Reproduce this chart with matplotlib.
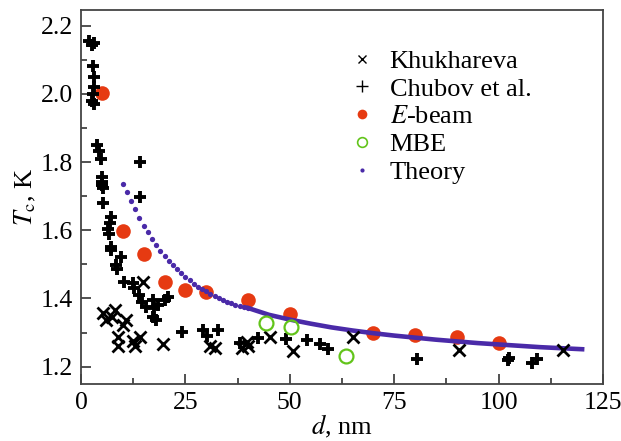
import matplotlib
matplotlib.use("Agg")
import matplotlib.pyplot as plt
from matplotlib.lines import Line2D
from matplotlib.ticker import MultipleLocator

plt.rcParams["font.family"] = ["Liberation Serif", "DejaVu Serif"]
plt.rcParams["mathtext.fontset"] = "stix"

# Khukhareva (x markers)
khuk_d = [5.3, 6.1, 7.5, 8.1, 10.9, 10.0, 8.9, 8.9, 12.4, 12.9, 14.1, 14.9, 19.7,
          30.9, 32.1, 38.5, 39.7, 40.1, 45.3, 50.8, 65.2, 90.6, 115.5]
khuk_tc = [1.356, 1.337, 1.345, 1.366, 1.337, 1.322, 1.288, 1.259, 1.275, 1.259, 1.288, 1.449, 1.266,
           1.259, 1.254, 1.254, 1.273, 1.259, 1.288, 1.246, 1.288, 1.249, 1.249]

# Chubov et al. (+ markers)
chub_d = [2.0, 2.6, 3.0, 2.8, 3.0, 3.0, 2.8, 2.7, 3.1,
          3.8, 4.4, 4.9, 5.0, 5.0, 5.1, 5.2, 5.2, 14.2, 14.2,
          7.2, 7.0, 6.5, 6.8, 7.2, 7.2, 9.6, 8.4, 8.6,
          10.4, 12.4, 12.8, 14.0, 14.5, 15.6, 17.2, 17.4, 17.2, 18.0, 18.5,
          20.1, 20.9, 24.2, 29.3, 30.1, 32.9, 38.1, 42.3, 49.2, 54.2, 57.2, 59.2,
          80.4, 102.3, 102.6, 107.9, 109.3]
chub_tc = [2.155, 2.145, 2.150, 2.083, 2.050, 2.020, 2.000, 1.980, 1.972,
           1.849, 1.832, 1.810, 1.755, 1.743, 1.733, 1.724, 1.680, 1.799, 1.698,
           1.639, 1.622, 1.605, 1.590, 1.551, 1.542, 1.522, 1.498, 1.485,
           1.449, 1.446, 1.430, 1.410, 1.390, 1.376, 1.395, 1.371, 1.346, 1.337, 1.381,
           1.395, 1.405, 1.302, 1.307, 1.290, 1.307, 1.268, 1.285, 1.282, 1.277, 1.266, 1.251,
           1.222, 1.220, 1.226, 1.212, 1.222]

# E-beam
ebeam_d = [5, 10, 15, 20, 25, 30, 40, 50, 70, 80, 90, 100]
ebeam_tc = [2.002, 1.598, 1.529, 1.447, 1.425, 1.418, 1.394, 1.353, 1.298, 1.293, 1.287, 1.268]

# MBE
mbe_d = [44.2, 50.2, 63.5]
mbe_tc = [1.329, 1.315, 1.232]

# Theory, dotted part (read every 1 nm)
theo_d = list(range(10, 41))
theo_tc = [1.737, 1.712, 1.685, 1.661, 1.636, 1.613, 1.594, 1.574, 1.556, 1.540,
           1.525, 1.510, 1.498, 1.485, 1.474, 1.464, 1.453, 1.443, 1.434, 1.427,
           1.421, 1.414, 1.408, 1.402, 1.396, 1.391, 1.386, 1.382, 1.378, 1.375, 1.372]
# Theory, dense part (read every 5 nm)
theo2_d = [40, 45, 50, 55, 60, 65, 70, 75, 80, 85, 90, 95, 100, 105, 110, 115, 120]
theo2_tc = [1.372, 1.352, 1.338, 1.326, 1.315, 1.306, 1.298, 1.291, 1.285, 1.279,
            1.274, 1.269, 1.265, 1.261, 1.257, 1.254, 1.251]

red = "#e63a12"
green = "#62c41a"
blue = "#4a2aa8"
fs = 19

fig = plt.figure(figsize=(6.21, 4.41), dpi=100)
ax = fig.add_axes([0.1304, 0.1293, 0.8406, 0.8477])

ax.plot(theo2_d, theo2_tc, "-", color=blue, lw=3.3, zorder=2)
ax.plot(theo_d, theo_tc, "o", color=blue, ms=3.8, mew=0, zorder=2)
ax.plot(khuk_d, khuk_tc, "x", color="black", ms=8, mew=2.0, zorder=3)
ax.plot(chub_d, chub_tc, "+", color="black", ms=9, mew=2.8, zorder=3)
ax.plot(ebeam_d, ebeam_tc, "o", color=red, ms=10.5, mew=0, zorder=1)
ax.plot(mbe_d, mbe_tc, "o", mfc="none", mec=green, ms=10, mew=1.6, zorder=4)

ax.set_xlim(0, 125)
ax.set_ylim(1.149, 2.246)
ax.xaxis.set_major_locator(MultipleLocator(25))
ax.xaxis.set_minor_locator(MultipleLocator(12.5))
ax.yaxis.set_major_locator(MultipleLocator(0.2))
ax.yaxis.set_minor_locator(MultipleLocator(0.1))
ax.yaxis.set_major_formatter(matplotlib.ticker.FormatStrFormatter("%.1f"))
ax.tick_params(which="both", direction="in", top=False, right=False,
               labelsize=18.5, width=1.2, color="#333333")
ax.tick_params(which="major", length=7, pad=6)
ax.tick_params(which="minor", length=4.5)
for s in ax.spines.values():
    s.set_color("#444444")
    s.set_linewidth(1.3)

ax.set_xlabel("$d$, nm", fontsize=fs, labelpad=-1)
ax.set_ylabel("$T_\\mathrm{c}$, K", fontsize=fs, labelpad=2)

handles = [
    Line2D([], [], ls="none", marker="x", color="black", ms=6, mew=1.0),
    Line2D([], [], ls="none", marker="+", color="black", ms=9, mew=1.0),
    Line2D([], [], ls="none", marker="o", color=red, ms=7, mew=0),
    Line2D([], [], ls="none", marker="o", mfc="none", mec=green, ms=7, mew=1.2),
    Line2D([], [], ls="none", marker="o", color=blue, ms=3, mew=0),
]
labels = ["Khukhareva", "Chubov et al.", "$E$-beam", "MBE", "Theory"]
ax.legend(handles, labels, loc="upper left", bbox_to_anchor=(0.49, 0.93),
          frameon=False, fontsize=fs, handlelength=0.9, handletextpad=0.6,
          labelspacing=0.16, borderpad=0)

fig.savefig("out.png", dpi=100)
